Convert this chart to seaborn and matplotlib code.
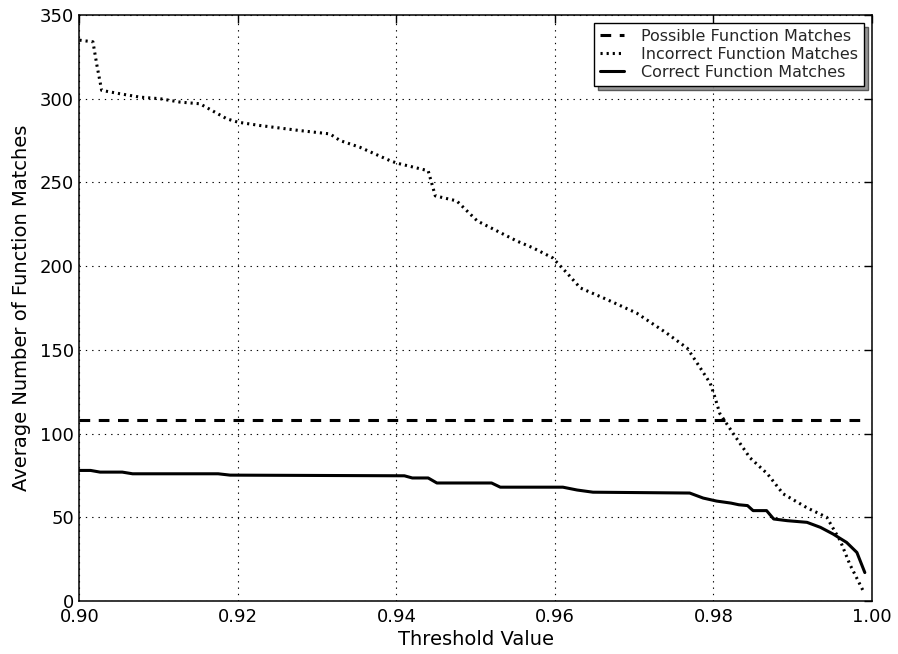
import numpy as np
import pandas as pd
import seaborn as sns
import matplotlib
matplotlib.use("Agg")
import matplotlib.pyplot as plt

# values
possible_x = [0.900, 0.999]
possible_y = [108, 108]

incorrect_x = [0.9000, 0.9017, 0.9022, 0.9028, 0.9051, 0.9076, 0.9102, 0.9127, 0.9152,
               0.9186, 0.9200, 0.9228, 0.9278, 0.9316, 0.9329, 0.9354, 0.9392, 0.9401,
               0.9440, 0.9449, 0.9476, 0.9502, 0.9527, 0.9552, 0.9572, 0.9597, 0.9615,
               0.9632, 0.9666, 0.9703, 0.9741, 0.9767, 0.9783, 0.9796, 0.9802, 0.9808,
               0.9825, 0.9846, 0.9868, 0.9888, 0.9918, 0.9943, 0.9960, 0.9972, 0.9989]
incorrect_y = [335, 334, 320, 305, 303, 301, 300, 298, 297,
               288, 286, 284, 281, 279, 275, 271, 263, 261.5,
               257, 242, 239, 227, 221, 215, 211, 205, 196,
               187, 180, 172, 160, 151, 139.5, 130, 121.5, 112,
               100, 85.6, 76, 64, 55.7, 50, 36, 22, 6]

correct_x = [0.9000, 0.9014, 0.9026, 0.9054, 0.9067, 0.9175, 0.9190, 0.9410, 0.9420,
             0.9440, 0.9451, 0.9520, 0.9531, 0.9610, 0.9628, 0.9648, 0.9770, 0.9787,
             0.9804, 0.9822, 0.9832, 0.9843, 0.9850, 0.9867, 0.9876, 0.9893, 0.9918,
             0.9935, 0.9951, 0.9968, 0.9981, 0.9991]
correct_y = [78, 78, 77, 77, 76, 76, 75.2, 74.8, 73.5,
             73.5, 70.5, 70.5, 68, 68, 66.3, 65, 64.5, 61.5,
             59.7, 58.5, 57.5, 57, 54, 54, 49, 48, 47,
             44, 40, 35, 29, 17]

sns.set_style("white")
plt.rcParams['font.family'] = ['DejaVu Sans']

fig = plt.figure(figsize=(8.98, 6.54), dpi=100)
ax = fig.add_axes([0.0885, 0.081, 0.8825, 0.896])

sns.lineplot(x=possible_x, y=possible_y, ax=ax, color='black', linewidth=2.2,
             linestyle=(0, (3.5, 2.8)), estimator=None, label='Possible Function Matches')
sns.lineplot(x=incorrect_x, y=incorrect_y, ax=ax, color='black', linewidth=2.2,
             linestyle=(0, (0.7, 1.3)), estimator=None, label='Incorrect Function Matches')
sns.lineplot(x=correct_x, y=correct_y, ax=ax, color='black', linewidth=2.2,
             linestyle='-', estimator=None, label='Correct Function Matches')

ax.set_xlim(0.90, 1.00)
ax.set_ylim(0, 350)
ax.set_xticks(np.arange(0.90, 1.001, 0.02))
ax.set_xticklabels([f"{t:.2f}" for t in np.arange(0.90, 1.001, 0.02)])
ax.set_yticks(range(0, 351, 50))

ax.grid(True, color='black', linestyle=(0, (1.2, 4.5)), linewidth=0.8)
ax.tick_params(direction='in', length=6, width=1, top=True, right=True,
               labelsize=13, colors='black')
ax.tick_params(axis='x', pad=5)
ax.tick_params(axis='y', pad=4)
for s in ax.spines.values():
    s.set_color('black')
    s.set_linewidth(1.1)

ax.set_xlabel("Threshold Value", fontsize=14, color='black', labelpad=3)
ax.set_ylabel("Average Number of Function Matches", fontsize=14, color='black', labelpad=6)

leg = ax.legend(loc='upper right', fontsize=11.5, fancybox=False,
                shadow={'ox': 3, 'oy': -3, 'facecolor': '0.55', 'alpha': 0.9},
                framealpha=1, edgecolor='black', borderaxespad=0.5,
                borderpad=0.35, handlelength=1.5, handletextpad=1.1,
                labelspacing=0.2)
leg.get_frame().set_linewidth(1.0)

fig.savefig("out.png", dpi=100)
